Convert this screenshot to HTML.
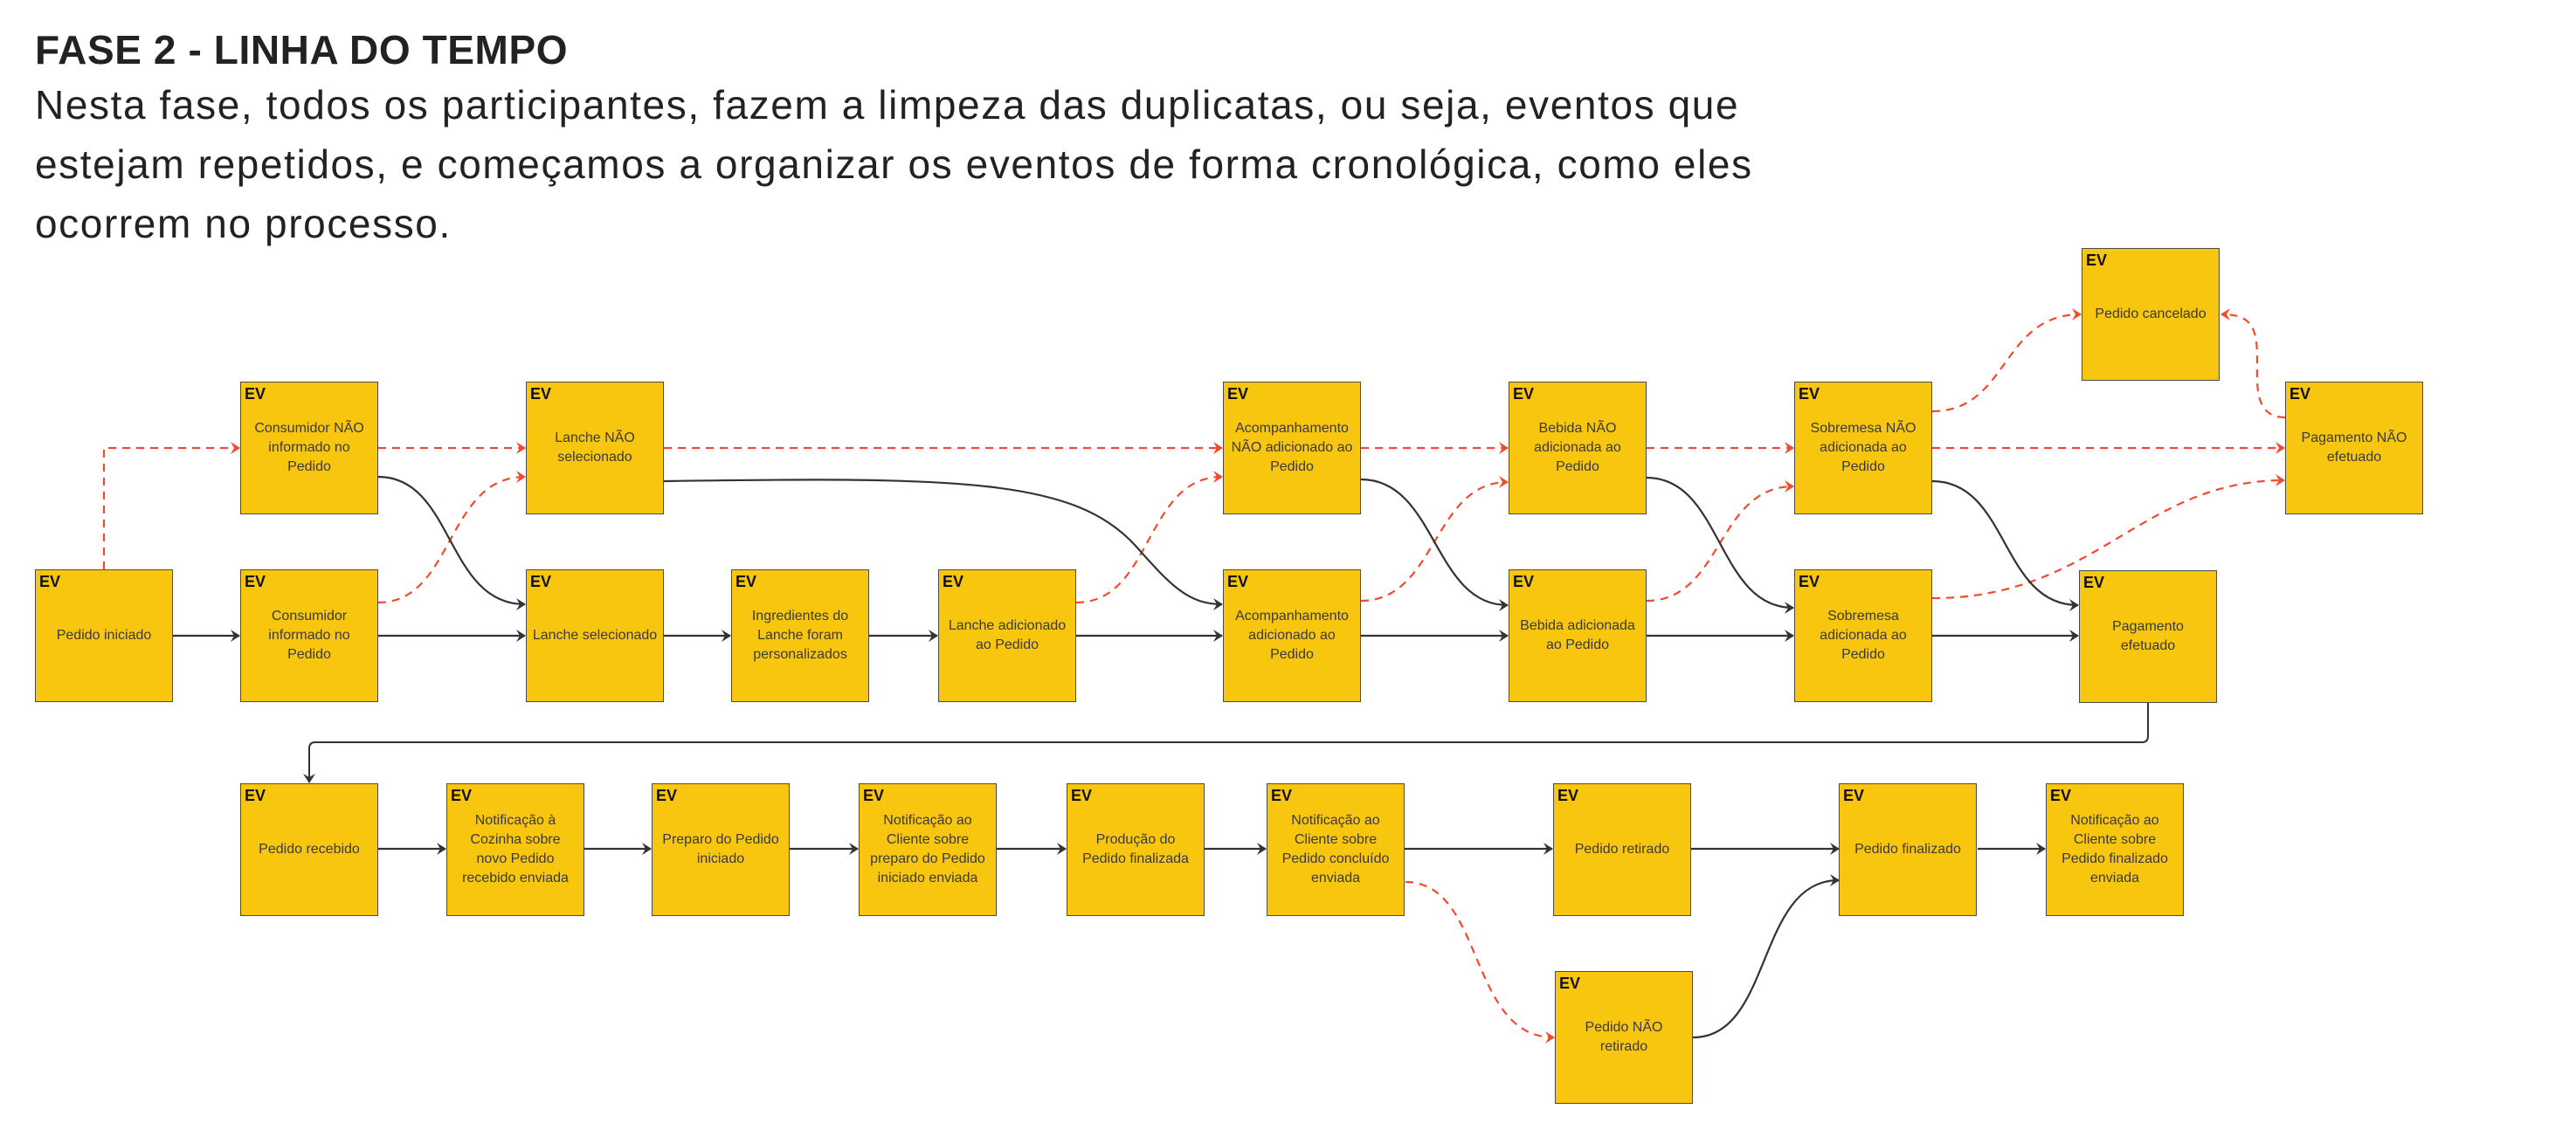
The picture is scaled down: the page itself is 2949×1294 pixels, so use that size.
<!DOCTYPE html>
<html><head><meta charset="utf-8"><style>
html,body{margin:0;padding:0;background:#fff;}
body{width:2949px;height:1294px;position:relative;overflow:hidden;font-family:"Liberation Sans",sans-serif;}
.t{position:absolute;left:40px;top:30px;font-weight:bold;font-size:46px;letter-spacing:0.6px;color:#222;white-space:nowrap;}
.d{position:absolute;left:40px;top:86px;font-size:46px;line-height:68px;color:#222;white-space:nowrap;letter-spacing:1.6px;}
.b{position:absolute;background:#F8C60F;border:1.5px solid #4a4a4a;display:flex;align-items:center;justify-content:center;text-align:center;font-size:16px;line-height:22px;color:#3a3a3a;padding:0 2px;box-sizing:border-box;width:158px;height:152px;white-space:nowrap;}
.b:before{content:"EV";position:absolute;left:4px;top:3px;font-weight:bold;font-size:18px;color:#111;line-height:20px;}
svg{position:absolute;left:0;top:0;}
</style></head><body>
<div class="t">FASE 2 - LINHA DO TEMPO</div>
<div class="d">Nesta fase, todos os participantes, fazem a limpeza das duplicatas, ou seja, eventos que<br>estejam repetidos, e começamos a organizar os eventos de forma cronológica, como eles<br>ocorrem no processo.</div>

<svg width="2949" height="1294" viewBox="0 0 2949 1294">
<defs>
<marker id="ak" markerWidth="16" markerHeight="16" refX="12" refY="8" orient="auto" markerUnits="userSpaceOnUse"><path d="M2,1 L13,8 L2,15 L6,8 Z" fill="#333"/></marker>
<marker id="ar" markerWidth="16" markerHeight="16" refX="12" refY="8" orient="auto" markerUnits="userSpaceOnUse"><path d="M2,1 L13,8 L2,15 L6,8 Z" fill="#F24A2C"/></marker>
</defs>
<g fill="none" stroke="#F24A2C" stroke-width="2.2" stroke-dasharray="9,7" marker-end="url(#ar)">
<path d="M119,652 L119,513 L274,513"/>
<path d="M433,513 L601,513"/>
<path d="M760,513 L1399,513"/>
<path d="M1558,513 L1726,513"/>
<path d="M1885,513 L2053,513"/>
<path d="M2212,513 L2615,513"/>
<path d="M433,690 C520,690 510,546 601,546"/>
<path d="M1232,690 C1320,690 1310,546 1399,546"/>
<path d="M1558,688 C1645,688 1640,552 1726,552"/>
<path d="M1885,688 C1972,688 1965,557 2053,557"/>
<path d="M2212,685 C2400,685 2450,550 2615,550"/>
<path d="M2212,471 C2300,471 2290,360 2382,360"/>
<path d="M2616,478 C2580,478 2584,440 2584,410 C2584,372 2575,360 2543,360"/>
<path d="M1609,1010 C1700,1010 1680,1188 1779,1188"/>
</g>
<g fill="none" stroke="#333" stroke-width="2.2" marker-end="url(#ak)">
<path d="M198,728 L274,728"/>
<path d="M433,728 L601,728"/>
<path d="M760,728 L836,728"/>
<path d="M995,728 L1073,728"/>
<path d="M1232,728 L1399,728"/>
<path d="M1558,728 L1726,728"/>
<path d="M1885,728 L2053,728"/>
<path d="M2212,728 L2379,728"/>
<path d="M433,546 C520,546 510,692 601,692"/>
<path d="M760,551 C1100,546 1230,548 1300,625 C1340,670 1360,692 1399,692"/>
<path d="M1558,549 C1645,549 1640,693 1726,693"/>
<path d="M1885,547 C1972,547 1965,696 2053,696"/>
<path d="M2212,551 C2300,551 2290,693 2379,693"/>
<path d="M433,972 L510,972"/>
<path d="M669,972 L745,972"/>
<path d="M904,972 L982,972"/>
<path d="M1141,972 L1220,972"/>
<path d="M1379,972 L1449,972"/>
<path d="M1608,972 L1777,972"/>
<path d="M1936,972 L2105,972"/>
<path d="M2264,972 L2341,972"/>
<path d="M1938,1188 C2030,1188 2010,1008 2105,1008"/>
</g>
<path d="M2459,805 L2459,843 Q2459,850 2452,850 L361,850 Q354,850 354,857 L354,896" fill="none" stroke="#333" stroke-width="2" marker-end="url(#ak)"/>
</svg>

<div class="b" style="left:40px;top:652px">Pedido iniciado</div>
<div class="b" style="left:275px;top:437px">Consumidor NÃO<br>informado no<br>Pedido</div>
<div class="b" style="left:275px;top:652px">Consumidor<br>informado no<br>Pedido</div>
<div class="b" style="left:602px;top:437px">Lanche NÃO<br>selecionado</div>
<div class="b" style="left:602px;top:652px">Lanche selecionado</div>
<div class="b" style="left:837px;top:652px">Ingredientes do<br>Lanche foram<br>personalizados</div>
<div class="b" style="left:1074px;top:652px">Lanche adicionado<br>ao Pedido</div>
<div class="b" style="left:1400px;top:437px">Acompanhamento<br>NÃO adicionado ao<br>Pedido</div>
<div class="b" style="left:1400px;top:652px">Acompanhamento<br>adicionado ao<br>Pedido</div>
<div class="b" style="left:1727px;top:437px">Bebida NÃO<br>adicionada ao<br>Pedido</div>
<div class="b" style="left:1727px;top:652px">Bebida adicionada<br>ao Pedido</div>
<div class="b" style="left:2054px;top:437px">Sobremesa NÃO<br>adicionada ao<br>Pedido</div>
<div class="b" style="left:2054px;top:652px">Sobremesa<br>adicionada ao<br>Pedido</div>
<div class="b" style="left:2383px;top:284px">Pedido cancelado</div>
<div class="b" style="left:2616px;top:437px">Pagamento NÃO<br>efetuado</div>
<div class="b" style="left:2380px;top:653px">Pagamento<br>efetuado</div>

<div class="b" style="left:275px;top:897px">Pedido recebido</div>
<div class="b" style="left:511px;top:897px">Notificação à<br>Cozinha sobre<br>novo Pedido<br>recebido enviada</div>
<div class="b" style="left:746px;top:897px">Preparo do Pedido<br>iniciado</div>
<div class="b" style="left:983px;top:897px">Notificação ao<br>Cliente sobre<br>preparo do Pedido<br>iniciado enviada</div>
<div class="b" style="left:1221px;top:897px">Produção do<br>Pedido finalizada</div>
<div class="b" style="left:1450px;top:897px">Notificação ao<br>Cliente sobre<br>Pedido concluído<br>enviada</div>
<div class="b" style="left:1778px;top:897px">Pedido retirado</div>
<div class="b" style="left:2105px;top:897px">Pedido finalizado</div>
<div class="b" style="left:2342px;top:897px">Notificação ao<br>Cliente sobre<br>Pedido finalizado<br>enviada</div>
<div class="b" style="left:1780px;top:1112px">Pedido NÃO<br>retirado</div>
</body></html>
